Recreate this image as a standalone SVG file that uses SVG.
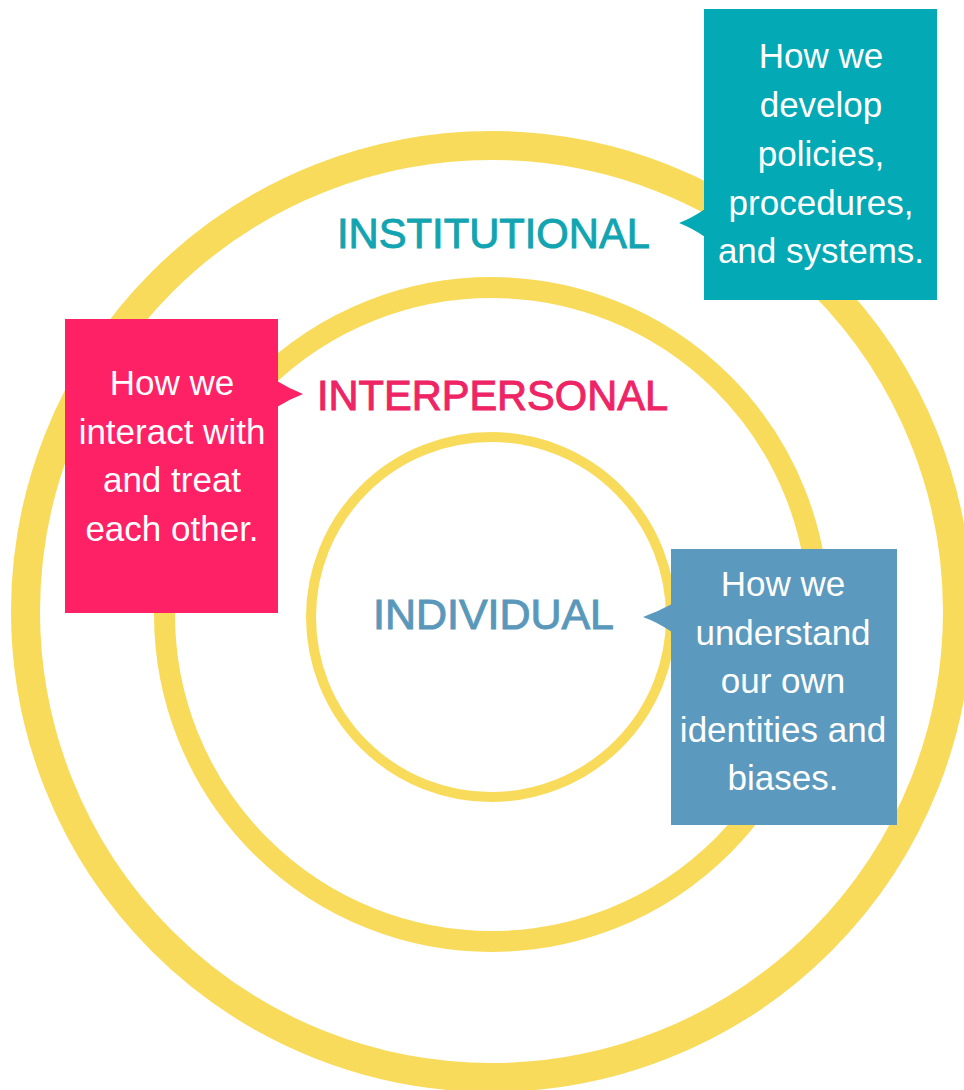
<svg xmlns="http://www.w3.org/2000/svg" width="964" height="1090" viewBox="0 0 964 1090">
  <style>
    .ring { fill: none; stroke: #F9DB5B; }
    .label { font-family: "Liberation Sans", Arial, sans-serif; font-size: 43px; text-anchor: middle; stroke-width: 1; }
    .body { font-family: "Liberation Sans", Arial, sans-serif; font-size: 35px; fill: #FFFFFF; text-anchor: middle; }
  </style>
  <rect x="0" y="0" width="964" height="1090" fill="#FFFFFF"/>

  <!-- concentric rings -->
  <g id="rings">
    <circle class="ring" cx="491.5" cy="611.5" r="466" stroke-width="29"/>
    <circle class="ring" cx="491.5" cy="614.5" r="327" stroke-width="21"/>
    <circle class="ring" cx="491" cy="617" r="180" stroke-width="10"/>
  </g>

  <!-- level names -->
  <g id="institutional">
    <text class="label" x="493.5" y="248" fill="#13A4B1" stroke="#13A4B1" textLength="313" lengthAdjust="spacingAndGlyphs">INSTITUTIONAL</text>
  </g>
  <g id="interpersonal">
    <text class="label" x="492.5" y="410" fill="#EE2464" stroke="#EE2464" textLength="351" lengthAdjust="spacingAndGlyphs">INTERPERSONAL</text>
  </g>
  <g id="individual">
    <text class="label" x="493.5" y="629" fill="#5A98BB" stroke="#5A98BB" textLength="241" lengthAdjust="spacingAndGlyphs">INDIVIDUAL</text>
  </g>

  <!-- callout boxes with pointers -->
  <g id="callout-institutional">
    <rect x="704" y="9" width="233" height="291" fill="#03A9B5"/>
    <path d="M705 209 Q692 218 679 223 Q692 228 705 237 Z" fill="#03A9B5"/>
    <text class="body" x="821" y="68">How we</text>
    <text class="body" x="821" y="117">develop</text>
    <text class="body" x="821" y="166">policies,</text>
    <text class="body" x="821" y="215">procedures,</text>
    <text class="body" x="821" y="263">and systems.</text>
  </g>

  <g id="callout-interpersonal">
    <rect x="65" y="319" width="213" height="294" fill="#FE2166"/>
    <path d="M277 381 Q290 389 303 394 Q290 399 277 407 Z" fill="#FE2166"/>
    <text class="body" x="172" y="395">How we</text>
    <text class="body" x="172" y="443.5">interact with</text>
    <text class="body" x="172" y="492">and treat</text>
    <text class="body" x="172" y="540.5">each other.</text>
  </g>

  <g id="callout-individual">
    <rect x="671" y="549" width="226" height="276" fill="#5B9ABE"/>
    <path d="M672 604 Q657 612 643 617 Q657 622 672 632 Z" fill="#5B9ABE"/>
    <text class="body" x="783" y="596">How we</text>
    <text class="body" x="783" y="644.5">understand</text>
    <text class="body" x="783" y="693">our own</text>
    <text class="body" x="783" y="741.5">identities and</text>
    <text class="body" x="783" y="790">biases.</text>
  </g>

  <g id="connectors"/>
</svg>
